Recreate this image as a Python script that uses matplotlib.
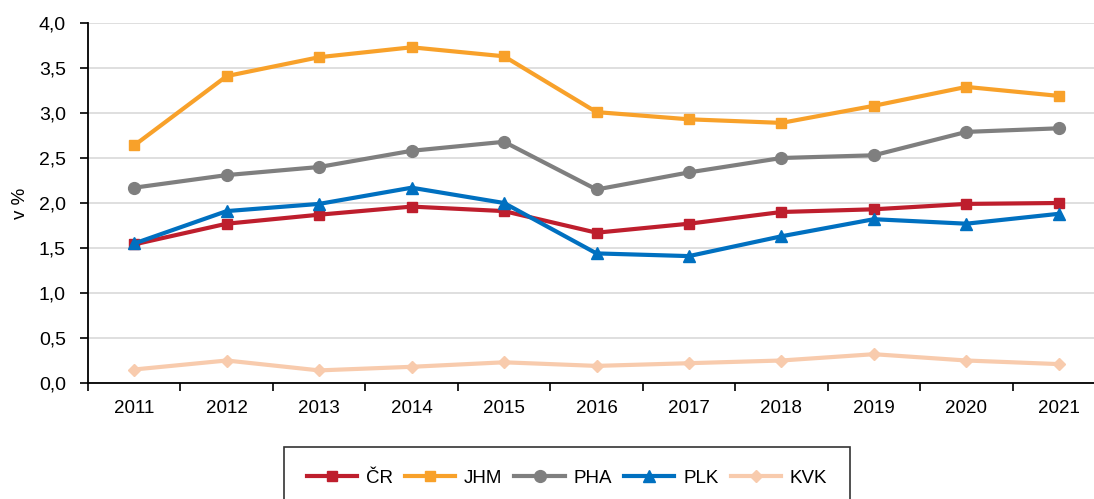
import matplotlib
matplotlib.use("Agg")
import matplotlib.pyplot as plt
from matplotlib.ticker import FixedLocator, FuncFormatter

plt.rcParams["font.family"] = ["Liberation Sans", "DejaVu Sans"]

years = ["2011", "2012", "2013", "2014", "2015", "2016", "2017", "2018", "2019", "2020", "2021"]
cr = [1.54, 1.77, 1.87, 1.96, 1.91, 1.67, 1.77, 1.90, 1.93, 1.99, 2.00]
jhm = [2.64, 3.41, 3.62, 3.73, 3.63, 3.01, 2.93, 2.89, 3.08, 3.29, 3.19]
pha = [2.17, 2.31, 2.40, 2.58, 2.68, 2.15, 2.34, 2.50, 2.53, 2.79, 2.83]
plk = [1.55, 1.91, 1.99, 2.17, 2.00, 1.44, 1.41, 1.63, 1.82, 1.77, 1.88]
kvk = [0.15, 0.25, 0.14, 0.18, 0.23, 0.19, 0.22, 0.25, 0.32, 0.25, 0.21]

series = [
    ("ČR", cr, "#BE1E2D", "s", 7.5),
    ("JHM", jhm, "#F8A12A", "s", 7.5),
    ("PHA", pha, "#7F7F7F", "o", 8.5),
    ("PLK", plk, "#0070C0", "^", 8.5),
    ("KVK", kvk, "#F8CBAD", "D", 6.5),
]

fig = plt.figure(figsize=(10.94, 4.99), dpi=100)
ax = fig.add_axes([88 / 1094, 116 / 499, 1017 / 1094, 360 / 499])

x = list(range(len(years)))
for name, vals, col, mk, ms in series:
    ax.plot(x, vals, color=col, lw=3, marker=mk, ms=ms, label=name, zorder=3)

ax.set_xlim(-0.5, len(years) - 0.5)
ax.set_ylim(0, 4)
ax.set_yticks([i * 0.5 for i in range(9)])
ax.yaxis.set_major_formatter(FuncFormatter(lambda v, p: f"{v:.1f}".replace(".", ",")))
ax.grid(axis="y", color="#d9d9d9", lw=1.2)
ax.set_axisbelow(True)

ax.set_xticks(x)
ax.set_xticklabels(years)
ax.tick_params(axis="x", which="major", length=0, pad=12, labelsize=13.5)
ax.xaxis.set_minor_locator(FixedLocator([i - 0.5 for i in range(len(years) + 1)]))
ax.tick_params(axis="x", which="minor", length=6, width=1.2, direction="out")
ax.tick_params(axis="y", length=6, width=1.2, labelsize=14, pad=10)

for s in ["top", "right"]:
    ax.spines[s].set_visible(False)
for s in ["left", "bottom"]:
    ax.spines[s].set_linewidth(1.3)

ax.set_ylabel("v %", fontsize=13.5, labelpad=7)

leg = fig.legend(loc="upper center", bbox_to_anchor=(567 / 1094, 52 / 499), ncol=5, frameon=True,
                 fancybox=False, edgecolor="black", fontsize=13.5, handlelength=2.67,
                 columnspacing=0.65, borderpad=1.2, handletextpad=0.48, borderaxespad=0)
leg.get_frame().set_linewidth(1.2)

fig.savefig("out.png", dpi=100)
